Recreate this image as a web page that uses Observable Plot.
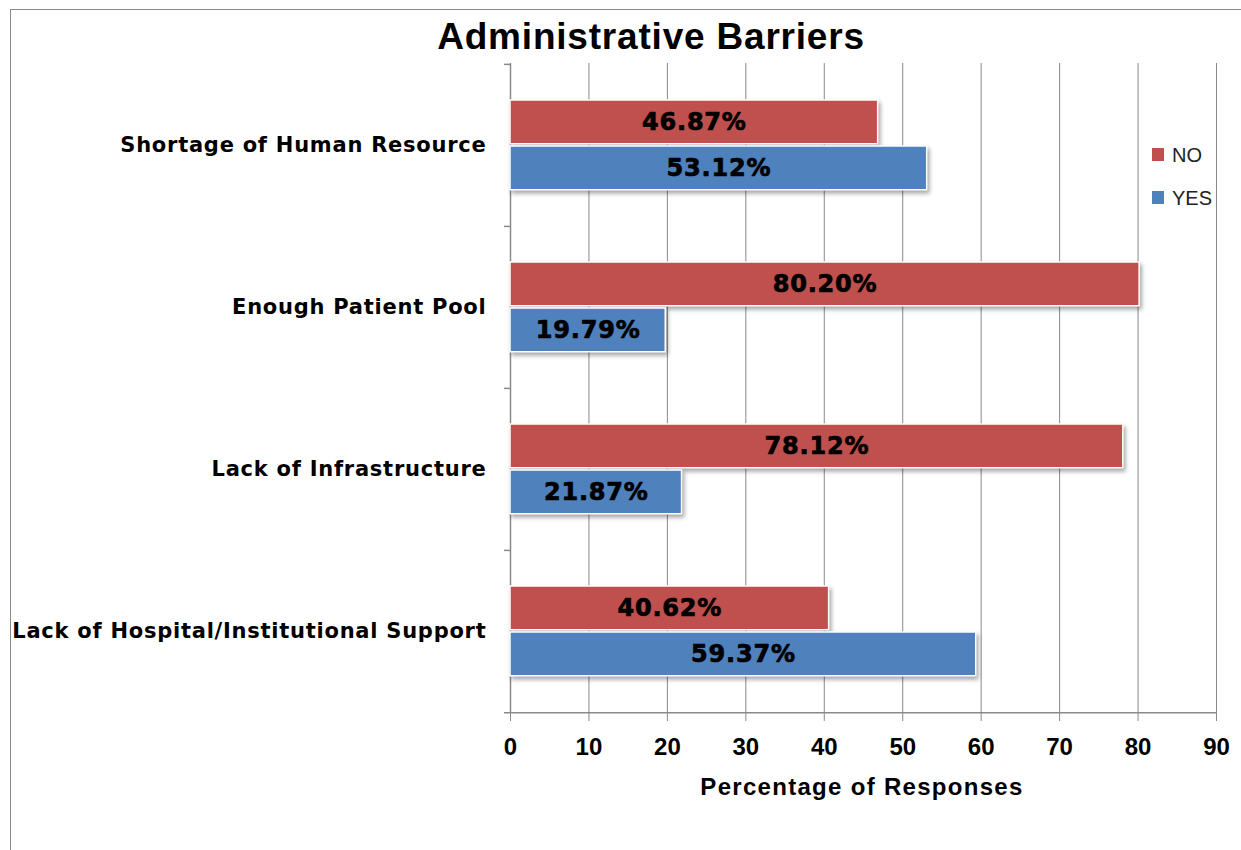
<!DOCTYPE html>
<html>
<head>
<meta charset="utf-8">
<script src="https://cdn.jsdelivr.net/npm/d3@7"></script>
<script src="https://cdn.jsdelivr.net/npm/@observablehq/plot@0.6"></script>
<style>
  html, body { margin: 0; padding: 0; background: #fff; }
  #wrap { position: relative; width: 1241px; height: 850px; overflow: hidden; background: #fff; }
  #border { position: absolute; left: 10px; top: 9px; width: 1400px; height: 1000px; border-left: 1px solid #8a8a8a; border-top: 1px solid #8a8a8a; }
  #chart { position: absolute; left: 0; top: 0; }
  #title { position: absolute; left: 351px; width: 600px; top: 18px; text-align: center;
           font-family: "Liberation Sans", Arial, sans-serif; font-weight: bold; font-size: 37px; line-height: 37px;
           letter-spacing: 0.8px; color: #000; white-space: nowrap; }
  #xlabel { position: absolute; left: 562px; width: 600px; top: 775px; text-align: center;
            font-family: "Liberation Sans", Arial, sans-serif; font-weight: bold; font-size: 24px; line-height: 24px;
            letter-spacing: 1.3px; color: #000; white-space: nowrap; }
  .leg { position: absolute; font-family: "Liberation Sans Narrow", "Liberation Sans", Arial, sans-serif; font-size: 20px; line-height: 20px; color: #222; }
  .sw { position: absolute; width: 12px; height: 13px; }
  #chart svg g[aria-label="bar"] { filter: drop-shadow(2px 3px 2px rgba(0,0,0,0.35)); }
  #chart svg g[aria-label="y-axis tick label"] text { letter-spacing: 0.75px; }
  #chart svg g[aria-label="text"] text { letter-spacing: 0.8px; }
</style>
</head>
<body>
<div id="wrap">
  <div id="border"></div>
  <div id="chart"></div>
  <div id="title">Administrative Barriers</div>
  <div id="xlabel">Percentage of Responses</div>
  <div id="legend"></div>
</div>
<script>
const categories = [
  "Shortage of Human Resource",
  "Enough Patient Pool",
  "Lack of Infrastructure",
  "Lack of Hospital/Institutional Support"
];
const noValues = [46.87, 80.20, 78.12, 40.62];
const yesValues = [53.12, 19.79, 21.87, 59.37];
const seriesNames = ["NO", "YES"];
const seriesColors = ["#C0504D", "#4F81BD"];
const xTicks = [0, 10, 20, 30, 40, 50, 60, 70, 80, 90];

const W = 1241, H = 850;
const mTop = 63, mBottom = 138, mLeft = 510, mRight = 25;
const step = (H - mTop - mBottom) / categories.length;
const axisColor = "#8a8a8a";

const noRows = categories.map((c, i) => ({category: c, value: noValues[i], series: seriesNames[0]}));
const yesRows = categories.map((c, i) => ({category: c, value: yesValues[i], series: seriesNames[1]}));
const fmt = d => d.value.toFixed(2) + "%";

const chart = Plot.plot({
  width: W, height: H,
  marginTop: mTop, marginBottom: mBottom, marginLeft: mLeft, marginRight: mRight,
  style: {fontFamily: "Liberation Sans, Arial, sans-serif", background: "transparent", color: "#000"},
  x: {domain: [0, 90]},
  y: {domain: categories, padding: 0},
  marks: [
    Plot.gridX(xTicks.slice(1), {stroke: axisColor, strokeOpacity: 1, strokeWidth: 1}),
    Plot.ruleX([0], {stroke: axisColor, strokeWidth: 1.5}),
    Plot.ruleY([categories[categories.length - 1]], {dy: step / 2, insetLeft: -6, stroke: axisColor, strokeWidth: 1.5}),
    Plot.ruleY(categories, {x1: 0, x2: 0, insetLeft: -6, dy: -step / 2, stroke: axisColor, strokeWidth: 1.5}),
    Plot.barX(noRows, {x: "value", y: "category", fill: seriesColors[0], stroke: "white", strokeWidth: 1.5,
      insetTop: 36, insetBottom: step - 80}),
    Plot.barX(yesRows, {x: "value", y: "category", fill: seriesColors[1], stroke: "white", strokeWidth: 1.5,
      insetTop: 82, insetBottom: step - 126}),
    Plot.text(noRows, {x: d => d.value / 2, y: "category", dy: -23, text: fmt,
      fontFamily: "DejaVu Sans", fontWeight: "bold", fontSize: 24, fill: "black", stroke: "black", strokeWidth: 0.7}),
    Plot.text(yesRows, {x: d => d.value / 2, y: "category", dy: 23, text: fmt,
      fontFamily: "DejaVu Sans", fontWeight: "bold", fontSize: 24, fill: "black", stroke: "black", strokeWidth: 0.7}),
    Plot.axisX(xTicks, {tickSize: 9, tickPadding: 16, fontSize: 24, fontWeight: "bold", stroke: axisColor, label: null}),
    Plot.axisY({tickSize: 0, tickPadding: 24, fontSize: 21, fontWeight: "bold", fontFamily: "DejaVu Sans", label: null})
  ]
});
document.getElementById("chart").appendChild(chart);

// Legend
const legend = document.getElementById("legend");
const legTops = [145, 188];
seriesNames.forEach((name, i) => {
  const sw = document.createElement("div");
  sw.className = "sw";
  sw.style.left = "1152px";
  sw.style.top = (legTops[i] + 3) + "px";
  sw.style.background = seriesColors[i];
  legend.appendChild(sw);
  const t = document.createElement("div");
  t.className = "leg";
  t.style.left = "1172px";
  t.style.top = legTops[i] + "px";
  t.textContent = name;
  legend.appendChild(t);
});
</script>
</body>
</html>
